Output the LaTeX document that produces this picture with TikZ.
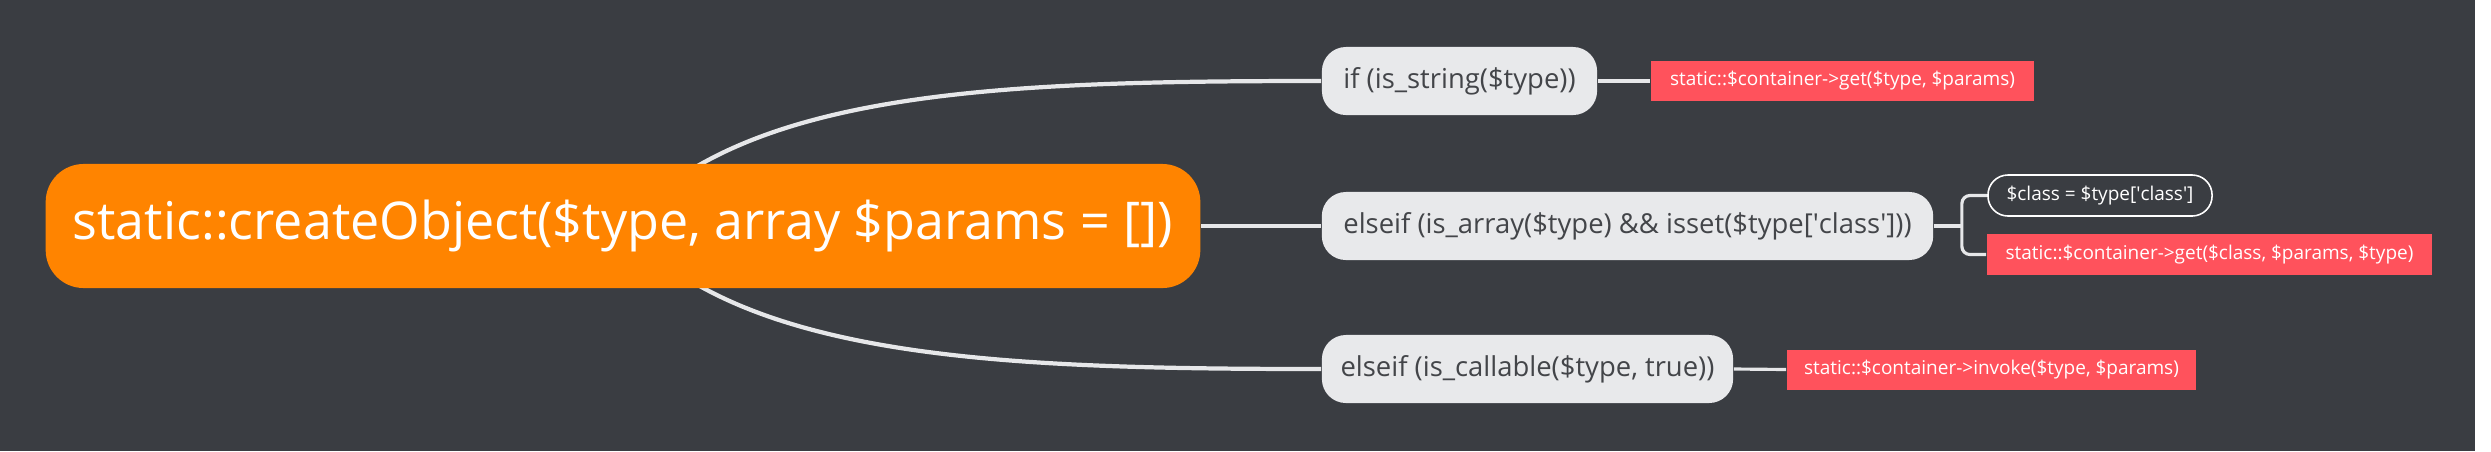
\documentclass[tikz,border=0pt]{standalone}
\usepackage{fontspec}
\setmainfont{Open Sans}
\pgfdeclarelayer{fondo}
\pgfdeclarelayer{ramas}
\pgfsetlayers{fondo,ramas,main}
\definecolor{pizarra}{HTML}{3A3D42}
\definecolor{naranja}{HTML}{FF8400}
\definecolor{gris}{HTML}{E8E9EB}
\definecolor{texto}{HTML}{434549}
\definecolor{rojo}{HTML}{FF525C}
\definecolor{linea}{HTML}{E6E7E9}
\newcommand{\comilla}{\textquotesingle}
\begin{document}
\begin{tikzpicture}[x=0.01cm, y=-0.01cm,
	raiz/.style={fill=naranja, text=white, rounded corners=0.38cm, minimum height=1.24cm, inner sep=0pt, font=\fontsize{14.8}{18}\selectfont},
	rama/.style={fill=gris, text=texto, rounded corners=0.24cm, minimum height=0.68cm, inner sep=0pt, font=\fontsize{7.8}{9.4}\selectfont},
	hoja/.style={fill=rojo, text=white, minimum height=0.40cm, inner sep=0pt, font=\fontsize{5.4}{6.5}\selectfont},
	nota/.style={draw=white, line width=0.45pt, text=white, rounded corners=0.2cm, minimum height=0.41cm, inner sep=0pt, font=\fontsize{5.4}{6.5}\selectfont},
	enlace/.style={draw=linea, line width=1.2pt},
	hilo/.style={draw=linea, line width=0.9pt}]
	% Fondo
		\useasboundingbox (0,0) rectangle (2491,451);
		\begin{pgfonlayer}{fondo}
			\fill[white] (0,0) rectangle (2491,451);
			\fill[pizarra] (0,0) rectangle (2475,451);
		\end{pgfonlayer}
	% Nodo central
		\node[raiz, minimum width=11.54cm] (raiz) at (623,226) {static::createObject(\$type, array \$params = [])};
	% Condiciones
		\node[rama, minimum width=2.75cm] (si) at (1459.5,81) {if (is\_string(\$type))};
		\node[rama, minimum width=6.11cm] (sino) at (1627.5,226) {elseif (is\_array(\$type) \&\& isset(\$type[\comilla class\comilla]))};
		\node[rama, minimum width=4.11cm] (invocable) at (1527.5,369) {elseif (is\_callable(\$type, true))};
	% Resultados
		\node[hoja, minimum width=3.83cm] (get) at (1842.5,81) {static::\$container->get(\$type, \$params)};
		\node[nota, minimum width=2.24cm] (clase) at (2100,195.5) {\$class = \$type[\comilla class\comilla]};
		\node[hoja, minimum width=4.45cm] (getclase) at (2209.5,254.5) {static::\$container->get(\$class, \$params, \$type)};
		\node[hoja, minimum width=4.09cm] (invoke) at (1991.5,369.5) {static::\$container->invoke(\$type, \$params)};
	% Ramas
		\begin{pgfonlayer}{ramas}
			\draw[enlace] (raiz.center) .. controls +(120,-136) and +(-322,0) .. (si.west);
			\draw[enlace] (raiz.east) -- (sino.west);
			\draw[enlace] (raiz.center) .. controls +(120,133) and +(-322,0) .. (invocable.west);
			\draw[hilo] (si.east) -- (get.west);
			\draw[hilo] (invocable.east) -- (invoke.west);
			\draw[hilo] (sino.east) -- ++(28,0) coordinate (bifurca);
			\draw[hilo, rounded corners=0.08cm] (clase.west) -| (bifurca) |- (getclase.west);
		\end{pgfonlayer}
\end{tikzpicture}
\end{document}
